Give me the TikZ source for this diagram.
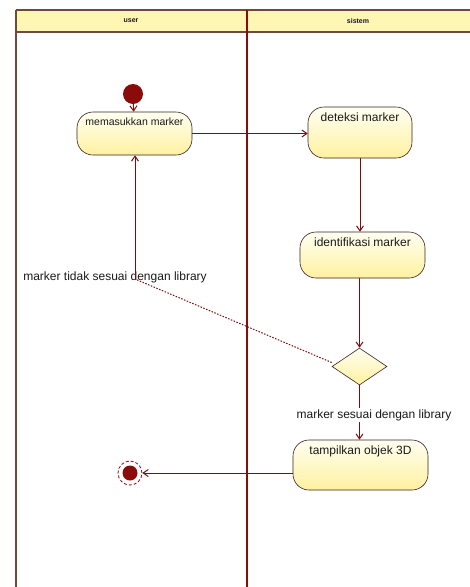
\documentclass[tikz,border=0pt]{standalone}
\usepackage{fontspec}
\setmainfont{Liberation Sans}
\usetikzlibrary{arrows.meta,shapes.geometric}

\definecolor{laneline}{HTML}{6E4A3A}
\definecolor{divider}{HTML}{8B0A0A}
\definecolor{headfill}{HTML}{FFF6B4}
\definecolor{flow}{HTML}{7A0E0E}
\definecolor{boxedge}{HTML}{3A2222}
\definecolor{boxtop}{HTML}{FFFFF2}
\definecolor{boxbot}{HTML}{FFF1A0}
\definecolor{ink}{HTML}{1A1A1A}

\tikzset{
  actbox/.style={draw=boxedge, line width=0.6pt, rounded corners=16pt,
    top color=boxtop, bottom color=boxbot, inner sep=0pt},
  acttext/.style={anchor=north, inner sep=0pt, font=\fontsize{12}{14}\selectfont,
    text=ink, yshift=-6pt},
  decbox/.style={diamond, draw=boxedge, line width=0.6pt, inner sep=0pt,
    top color=boxtop, bottom color=boxbot},
  flowline/.style={draw=flow, line width=1pt},
  flowarrow/.style={flowline, -{Straight Barb[length=5pt,width=7pt]}},
  guard/.style={font=\fontsize{12}{14}\selectfont, text=ink, inner sep=1pt},
  lanehead/.style={font=\fontsize{7}{8}\selectfont\bfseries, text=ink}
}

\begin{document}
\begin{tikzpicture}[x=1pt, y=-1pt]
  \useasboundingbox (0,0) rectangle (470,587);
  \fill[white] (0,0) rectangle (470,587);

  % swimlane frame
  \fill[headfill] (16,10) rectangle (470,32);
  \draw[laneline, line width=1.3pt] (16,10) -- (470,10);
  \draw[laneline, line width=1.3pt] (16,32) -- (470,32);
  \draw[laneline, line width=1.3pt] (16,10) -- (16,587);
  \draw[divider, line width=2pt] (247,10) -- (247,587);
  \node[lanehead] (hUser) at (131,21) {user};
  \node[lanehead] (hSys) at (358,21) {sistem};

  % start and end
  \node[circle, fill=divider, minimum size=20pt, inner sep=0pt] (start) at (133,94) {};
  \node[circle, draw=divider, densely dashed, line width=0.8pt, minimum size=24pt, inner sep=0pt] (finish) at (130,473) {};
  \node[circle, fill=divider, minimum size=15pt, inner sep=0pt] (finishdot) at (130,473) {};

  % actions
  \node[actbox, minimum width=115pt, minimum height=43pt] (a1) at (134.5,133.5) {};
  \node[acttext, font=\fontsize{10.5}{13}\selectfont] (t1) at (a1.north) {memasukkan marker};

  \node[actbox, minimum width=104pt, minimum height=51pt] (a2) at (360,132.5) {};
  \node[acttext] (t2) at (a2.north) {deteksi marker};

  \node[actbox, minimum width=125pt, minimum height=46pt] (a3) at (362.5,255) {};
  \node[acttext] (t3) at (a3.north) {identifikasi marker};

  \node[decbox, minimum width=55pt, minimum height=37pt] (d) at (359.5,366.5) {};

  \node[actbox, minimum width=135pt, minimum height=50pt] (a4) at (360.5,465) {};
  \node[acttext] (t4) at (a4.north) {tampilkan objek 3D};

  % guard labels
  \node[guard] (gNo) at (115,277) {marker tidak sesuai dengan library};
  \coordinate (bend) at (135,279);

  % flows
  \draw[flowarrow] (start) -- (a1);
  \draw[flowarrow] (a1.east) -- (a1.east -| a2.west);
  \draw[flowarrow] (a2.south) -- (a2.south |- a3.north);
  \draw[flowarrow] (a3.south -| d.north) -- (d.north);
  \draw[flowarrow] (d.south) -- (d.south |- a4.north);
  \draw[flowline, dash pattern=on 1.5pt off 1.5pt] ([yshift=4pt]d.west) -- (bend);
  \draw[flowarrow] (bend) -- (bend |- a1.south);
  \draw[flowarrow] (a4.west |- finish) -- (finish);

  % guard text drawn over the flow line it names
  \node[guard, fill=white] (gYes) at (374,415) {marker sesuai dengan library};
\end{tikzpicture}
\end{document}
